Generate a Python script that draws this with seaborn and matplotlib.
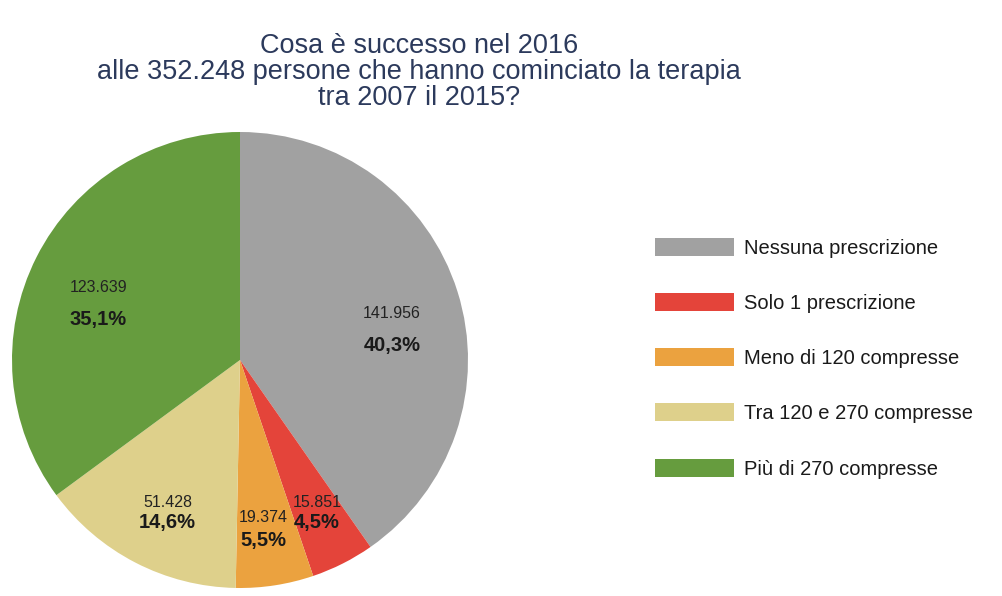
import matplotlib
matplotlib.use("Agg")
import matplotlib.pyplot as plt
import seaborn as sns
import numpy as np

# ---- data ----
categories = ["Nessuna prescrizione", "Solo 1 prescrizione", "Meno di 120 compresse",
              "Tra 120 e 270 compresse", "Più di 270 compresse"]
counts = [141956, 15851, 19374, 51428, 123639]
count_labels = ["141.956", "15.851", "19.374", "51.428", "123.639"]
pct_labels = ["40,3%", "4,5%", "5,5%", "14,6%", "35,1%"]
title_text = "Cosa è successo nel 2016\nalle 352.248 persone che hanno cominciato la terapia\ntra 2007 il 2015?"

# ---- style ----
colors = ["#a1a1a1", "#e4443a", "#eba23f", "#ded08b", "#669c3e"]
label_radius = [0.68, 0.75, 0.75, 0.74, 0.67]
label_angle_shift = [-6, 0, -1, 2, 5]
label_gap_px = [32, 20, 23, 20, 32]

sns.set_theme(style="white")
plt.rcParams["font.family"] = ["Liberation Sans", "DejaVu Sans"]

W, H = 1002, 596
fig = plt.figure(figsize=(W / 100, H / 100), dpi=100)
fig.patch.set_facecolor("white")

cx, cy, r = 240, 360, 228
ax = fig.add_axes([(cx - r) / W, (H - cy - r) / H, 2 * r / W, 2 * r / H])
wedges, _ = ax.pie(counts, colors=colors, startangle=90, counterclock=False,
                   radius=1.0, wedgeprops=dict(linewidth=0))
ax.set_xlim(-1, 1)
ax.set_ylim(-1, 1)
ax.set_aspect("equal")
ax.axis("off")

px2pt = 72 / 100
for i, w in enumerate(wedges):
    mid = np.deg2rad((w.theta1 + w.theta2) / 2 + label_angle_shift[i])
    x = label_radius[i] * np.cos(mid)
    y = label_radius[i] * np.sin(mid)
    g = label_gap_px[i] / 2 * px2pt
    ax.annotate(count_labels[i], (x, y), xytext=(0, g), textcoords="offset points",
                ha="center", va="center", fontsize=11.5, color="#222222")
    ax.annotate(pct_labels[i], (x, y), xytext=(0, -g), textcoords="offset points",
                ha="center", va="center", fontsize=14.5, fontweight="bold", color="#1a1a1a")

fig.text(419 / W, 1 - 72 / H, title_text, ha="center", va="center",
         fontsize=19.5, color="#2c3a5c", linespacing=1.0)

leg = fig.legend(wedges, categories, loc="upper left",
                 bbox_to_anchor=(655 / W, 1 - 238 / H), frameon=False,
                 fontsize=14.5, handlelength=3.9, handleheight=1.0,
                 handletextpad=0.5, labelspacing=1.75, borderpad=0, borderaxespad=0)
for t in leg.get_texts():
    t.set_color("#1a1a1a")

fig.savefig("out.png", dpi=100, facecolor="white")
